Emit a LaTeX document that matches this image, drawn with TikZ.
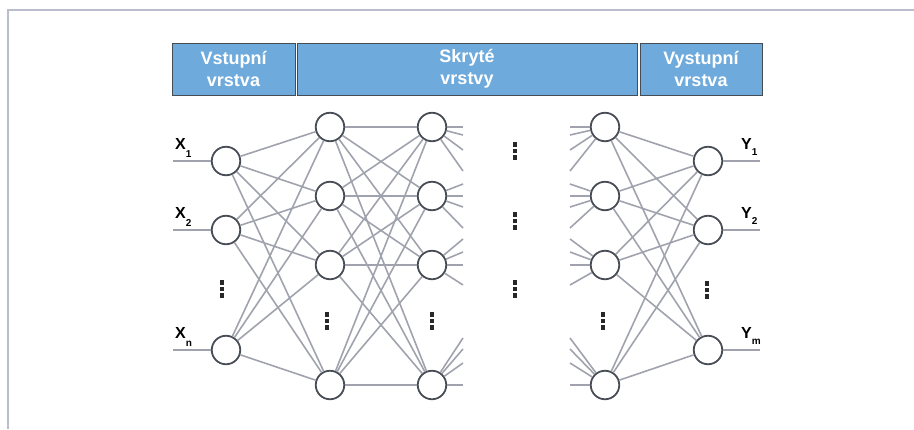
\documentclass[tikz,border=0pt]{standalone}
\usepackage{fontspec}
\setmainfont{Liberation Sans}
\definecolor{framegray}{RGB}{186,190,204}
\definecolor{boxblue}{RGB}{111,170,220}
\definecolor{boxedge}{RGB}{70,76,84}
\definecolor{linkgray}{RGB}{160,163,173}
\definecolor{ringgray}{RGB}{72,77,85}
\definecolor{dotgray}{RGB}{40,40,40}
\begin{document}
\begin{tikzpicture}[x=1pt,y=-1pt,
  neuron/.style={circle, draw=ringgray, line width=1.8pt, fill=white,
    minimum size=28.5pt, inner sep=0pt},
  link/.style={draw=linkgray, line width=1.6pt},
  layerbox/.style={draw=boxedge, fill=boxblue, line width=0.9pt,
    minimum height=52pt, text=white, align=center,
    font=\fontsize{18}{22}\selectfont\bfseries},
  iolabel/.style={anchor=base west, inner sep=0pt, text=black,
    font=\fontsize{16}{16}\selectfont\bfseries},
  vdots/.style={align=center, inner sep=0pt, text=dotgray,
    font=\fontsize{6.5}{6.5}\selectfont}
]
\useasboundingbox (0,0) rectangle (914,429);
% page frame
\draw[framegray, line width=2pt] (8,429) -- (8,10) -- (914,10);

% layer headings
\node[layerbox, minimum width=123pt] (hin)  at (233.5,69) {Vstupní\\vrstva};
\node[layerbox, minimum width=340pt] (hhid) at (467,69)   {Skryté\\vrstvy};
\node[layerbox, minimum width=122pt] (hout) at (701,69)   {Vystupní\\vrstva};

% neurons
\foreach \y [count=\i] in {161,230,350} {
  \node[neuron] (a\i) at (226,\y) {};
  \node[neuron] (e\i) at (708,\y) {};
}
\foreach \y [count=\i] in {127,196,265,385} {
  \node[neuron] (b\i) at (330,\y) {};
  \node[neuron] (c\i) at (432,\y) {};
  \node[neuron] (d\i) at (605,\y) {};
}

% full connections
\foreach \i in {1,2,3} \foreach \j in {1,2,3,4} {
  \draw[link] (a\i) -- (b\j);
  \draw[link] (d\j) -- (e\i);
}
\foreach \i in {1,2,3,4} \foreach \j in {1,2,3,4} {
  \draw[link] (b\i) -- (c\j);
}

% partial links leaving and entering the elided hidden layers
\foreach \ys [count=\i] in {{127,135,150,171},{184,196,207,228},{239,252,265,285},{338,349,363,385}} {
  \foreach \yy [count=\k] in \ys {
    \coordinate (so\i\k) at (463,\yy);
    \coordinate (si\i\k) at (570,\yy);
    \draw[link] (c\i) -- (so\i\k);
    \draw[link] (si\i\k) -- (d\i);
  }
}

% inputs and outputs
\foreach \i/\s in {1/1,2/2,3/n} {
  \coordinate (xin\i) at (173,0 |- a\i);
  \draw[link] (xin\i) -- (a\i);
  \node[iolabel, xshift=2pt, yshift=12pt] (xl\i) at (xin\i)
    {X\raisebox{-8pt}{\fontsize{10}{10}\selectfont\s}};
}
\foreach \i/\s in {1/1,2/2,3/m} {
  \coordinate (yout\i) at (760,0 |- e\i);
  \draw[link] (e\i) -- (yout\i);
  \node[iolabel, xshift=-19pt, yshift=12pt] (yl\i) at (yout\i)
    {Y\raisebox{-6.5pt}{\fontsize{10}{10}\selectfont\s}};
}

% ellipsis markers
\newcommand\dotstack{\rule{4.5pt}{4.5pt}\\\rule{4.5pt}{4.5pt}\\\rule{4.5pt}{4.5pt}}
\node[vdots] (ka) at (222,289) {\dotstack};
\node[vdots] (kb) at (327,321) {\dotstack};
\node[vdots] (kc) at (432,321) {\dotstack};
\node[vdots] (kd) at (603,321) {\dotstack};
\node[vdots] (ke) at (707,290) {\dotstack};
\node[vdots] (km1) at (515,151) {\dotstack};
\node[vdots] (km2) at (515,221) {\dotstack};
\node[vdots] (km3) at (515,289) {\dotstack};
\end{tikzpicture}
\end{document}
